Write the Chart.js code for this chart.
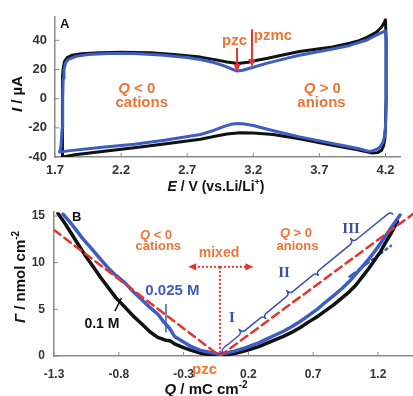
<!DOCTYPE html>
<html>
<head>
<meta charset="utf-8">
<script src="https://cdn.jsdelivr.net/npm/chart.js@4.4.0/dist/chart.umd.min.js"></script>
<style>
  html, body { margin: 0; padding: 0; background: #fff; }
  canvas { display: block; }
</style>
</head>
<body>
<canvas id="cvChart" width="413" height="196"></canvas>
<canvas id="gammaChart" width="413" height="200"></canvas>
<script>
// Panel A: cyclic voltammograms, E (V) vs I (µA)
const cvBlackE = [1.755, 1.755, 1.756, 1.758, 1.762, 1.772, 1.79, 1.83, 1.9, 2.04, 2.2, 2.42, 2.6, 2.8, 2.92, 3.0, 3.06, 3.1, 3.16, 3.22, 3.3, 3.45, 3.55, 3.7, 3.8, 3.93, 4.0, 4.06, 4.13, 4.17, 4.19, 4.2,
  4.205, 4.205, 4.2, 4.195, 4.185, 4.17, 4.14, 4.1, 4.05, 3.98, 3.8, 3.55, 3.35, 3.2, 3.1, 3.0, 2.92, 2.8, 2.54, 2.3, 2.04, 1.85, 1.78, 1.755];
const cvBlackI = [-40, -30, 0, 15, 21, 25.5, 28, 29.8, 30.8, 31.5, 31.8, 31.5, 30.3, 28.5, 26.6, 25.2, 24.4, 24.3, 25, 26.2, 27.6, 30.5, 32.3, 34.2, 35.5, 38, 39.8, 42, 45.5, 49, 52, 54,
  40, 0, -20, -28, -32.5, -35.5, -37, -37.2, -36.3, -34.8, -32, -27.5, -24.5, -23.5, -23.4, -24.2, -25.6, -27.8, -30.9, -33.6, -36.4, -38.5, -39.6, -40];
const cvBlueE = [1.735, 1.745, 1.755, 1.758, 1.762, 1.768, 1.78, 1.8, 1.86, 1.95, 2.1, 2.3, 2.5, 2.7, 2.8, 2.9, 2.98, 3.04, 3.08, 3.12, 3.2, 3.3, 3.45, 3.55, 3.7, 3.8, 3.93, 4.06, 4.13, 4.2,
  4.205, 4.205, 4.2, 4.19, 4.18, 4.16, 4.14, 4.1, 4.07, 4.0, 3.8, 3.55, 3.4, 3.3, 3.2, 3.12, 3.08, 3.03, 2.98, 2.9, 2.8, 2.54, 2.3, 2.04, 1.8, 1.735];
const cvBlueI = [-36.5, -33, -20, 0, 14, 20, 24.5, 27, 29, 30.3, 31, 31, 30, 28.2, 26.8, 24.8, 22.5, 20.2, 19, 19.5, 21.5, 24.2, 27.6, 29.8, 32.3, 34, 36.5, 40.2, 43.5, 46.5,
  40, 0, -20, -27, -30, -33, -34.5, -35.8, -36, -34.3, -30.8, -26.2, -23, -20.8, -18.4, -17.2, -17, -17.6, -19, -21.8, -24.6, -28.4, -31.2, -33.5, -35.8, -36.5];
const eTicks = [1.7, 2.2, 2.7, 3.2, 3.7, 4.2];
const iTicks = [-40, -20, 0, 20, 40];

// Panel B: surface excess vs charge
const gBlackQ = [-1.27, -1.22, -1.17, -1.12, -1.06, -1.0, -0.94, -0.88, -0.82, -0.75, -0.69, -0.62, -0.56, -0.5, -0.44, -0.4, -0.37, -0.3, -0.24, -0.17, -0.1, -0.03,
  0.04, 0.1, 0.16, 0.22, 0.28, 0.34, 0.4, 0.47, 0.53, 0.6, 0.66, 0.73, 0.79, 0.86, 0.92, 0.98, 1.03, 1.08, 1.13, 1.18, 1.22, 1.26, 1.3, 1.33, 1.35];
const gBlackG = [15.3, 14.3, 13.2, 12.1, 10.8, 9.6, 8.4, 7.3, 6.2, 5.2, 4.3, 3.4, 2.6, 2.0, 1.7, 1.6, 1.3, 0.9, 0.6, 0.3, 0.15, 0.05,
  0.15, 0.3, 0.5, 0.75, 1.0, 1.35, 1.7, 2.1, 2.5, 3.05, 3.6, 4.2, 4.8, 5.5, 6.2, 6.9, 7.6, 8.5, 9.4, 10.4, 11.2, 12.2, 13.1, 13.9, 14.4];
const gBlueQ = [-1.23, -1.18, -1.14, -1.08, -1.01, -0.95, -0.88, -0.82, -0.75, -0.69, -0.62, -0.56, -0.5, -0.45, -0.41, -0.37, -0.3, -0.24, -0.17, -0.1, -0.03,
  0.04, 0.1, 0.16, 0.22, 0.28, 0.34, 0.4, 0.47, 0.53, 0.6, 0.66, 0.73, 0.79, 0.86, 0.92, 0.98, 1.03, 1.08, 1.13, 1.18, 1.23, 1.28, 1.32, 1.35, 1.37];
const gBlueG = [15.2, 14.4, 13.7, 12.6, 11.5, 10.5, 9.4, 8.6, 7.8, 6.9, 6.0, 5.2, 4.5, 3.6, 3.0, 2.1, 1.5, 1.0, 0.6, 0.4, 0.2,
  0.35, 0.55, 0.8, 1.1, 1.4, 1.8, 2.2, 2.65, 3.1, 3.7, 4.3, 5.0, 5.7, 6.5, 7.2, 8.0, 8.8, 9.6, 10.4, 11.3, 12.3, 13.3, 14.1, 14.7, 15.1];
const fitLeftQ = [-1.3, -0.02];
const fitLeftG = [13.5, 0];
const fitRightQ = [-0.02, 1.47];
const fitRightG = [0, 15.2];
const blueFitQ = [0.98, 1.3];
const blueFitG = [8.5, 11.8];
const qTicks = [-1.3, -0.8, -0.3, 0.2, 0.7, 1.2];
const gTicks = [0, 5, 10, 15];

const FONT = "'Liberation Sans', Arial, sans-serif";
const SERIF = "'Liberation Serif', 'Times New Roman', serif";
const ORANGE = "#ec7537";
const RED = "#e3352b";
const BLUE = "#3f5cc2";
const INK = "#111";

const toPts = (xs, ys) => xs.map((x, i) => ({ x, y: ys[i] }));

// text made of pieces (italic letters, superscripts)
function drawRich(ctx, parts, x, y, size, align) {
  const font = (p) => `${p.italic ? "italic " : ""}bold ${p.sup ? Math.round(size * 0.65) : size}px ${FONT}`;
  let w = 0;
  parts.forEach((p) => { ctx.font = font(p); w += ctx.measureText(p.t).width; });
  let cx = align === "center" ? x - w / 2 : align === "right" ? x - w : x;
  ctx.textAlign = "left";
  ctx.textBaseline = "alphabetic";
  parts.forEach((p) => {
    ctx.font = font(p);
    ctx.fillText(p.t, cx, p.sup ? y - size * 0.4 : y);
    cx += ctx.measureText(p.t).width;
  });
}

function arrow(ctx, x1, y1, x2, y2, color, width, dash, head) {
  const a = Math.atan2(y2 - y1, x2 - x1);
  const c = Math.cos(a), s = Math.sin(a);
  ctx.save();
  ctx.strokeStyle = color;
  ctx.fillStyle = color;
  ctx.lineWidth = width;
  ctx.setLineDash(dash || []);
  ctx.beginPath();
  ctx.moveTo(x1, y1);
  ctx.lineTo(x2 - c * head * 0.8, y2 - s * head * 0.8);
  ctx.stroke();
  ctx.setLineDash([]);
  ctx.beginPath();
  ctx.moveTo(x2, y2);
  ctx.lineTo(x2 - head * c + head * 0.45 * s, y2 - head * s - head * 0.45 * c);
  ctx.lineTo(x2 - head * c - head * 0.45 * s, y2 - head * s + head * 0.45 * c);
  ctx.closePath();
  ctx.fill();
  ctx.restore();
}

function line(ctx, x1, y1, x2, y2, color, width, dash) {
  ctx.save();
  ctx.strokeStyle = color;
  ctx.lineWidth = width;
  ctx.setLineDash(dash || []);
  ctx.beginPath();
  ctx.moveTo(x1, y1);
  ctx.lineTo(x2, y2);
  ctx.stroke();
  ctx.restore();
}

// small tick marks pointing into the plot
function innerTicks(chart) {
  const { ctx, chartArea, scales: { x, y } } = chart;
  x.ticks.forEach((t) => {
    const p = x.getPixelForValue(t.value);
    line(ctx, p, chartArea.bottom, p, chartArea.bottom - 4, "#8a8a8a", 1);
  });
  y.ticks.forEach((t) => {
    const p = y.getPixelForValue(t.value);
    line(ctx, chartArea.left, p, chartArea.left + 4, p, "#8a8a8a", 1);
  });
}

// one curly brace between pixel points a and b, bulging along normal n
function brace(ctx, a, b, n, h1, h2) {
  const len = Math.hypot(b.x - a.x, b.y - a.y);
  const u = { x: (b.x - a.x) / len, y: (b.y - a.y) / len };
  const r = 4;
  const m = { x: (a.x + b.x) / 2, y: (a.y + b.y) / 2 };
  const P = (p, du, dn) => [p.x + u.x * du + n.x * dn, p.y + u.y * du + n.y * dn];
  ctx.beginPath();
  ctx.moveTo(a.x, a.y);
  ctx.quadraticCurveTo(...P(a, 0, h1), ...P(a, r, h1));
  ctx.lineTo(...P(m, -r, h1));
  ctx.quadraticCurveTo(...P(m, 0, h1), ...P(m, 0, h2));
  ctx.quadraticCurveTo(...P(m, 0, h1), ...P(m, r, h1));
  ctx.lineTo(...P(b, -r, h1));
  ctx.quadraticCurveTo(...P(b, 0, h1), b.x, b.y);
  ctx.stroke();
}

function axis(ticksArr, min, max, size, pad, fmt, fontSize) {
  return {
    type: "linear",
    min,
    max,
    grid: { display: false, drawTicks: false },
    border: { display: true, color: "#8a8a8a", width: 1.5 },
    afterBuildTicks: (s) => { s.ticks = ticksArr.map((v) => ({ value: v })); },
    afterFit: (s) => { if (s.isHorizontal()) s.height = size; else s.width = size; },
    ticks: {
      padding: pad,
      autoSkip: false,
      maxRotation: 0,
      color: "#333",
      font: { family: FONT, size: fontSize, weight: "bold" },
      callback: fmt,
    },
  };
}

const cvNotes = {
  id: "cvNotes",
  afterDraw(chart) {
    const { ctx, chartArea: area, scales: { x, y } } = chart;
    const px = (v) => x.getPixelForValue(v);
    const py = (v) => y.getPixelForValue(v);
    innerTicks(chart);
    ctx.save();
    ctx.fillStyle = INK;
    drawRich(ctx, [{ t: "A" }], area.left + 5, area.top + 11, 13, "left");

    ctx.fillStyle = ORANGE;
    drawRich(ctx, [{ t: "Q", italic: true }, { t: " < 0" }], px(2.318), py(3.9), 15, "center");
    drawRich(ctx, [{ t: "cations" }], px(2.356), py(-5.4), 15, "center");
    drawRich(ctx, [{ t: "Q", italic: true }, { t: " > 0" }], px(3.723), py(3.9), 15, "center");
    drawRich(ctx, [{ t: "anions" }], px(3.716), py(-5.4), 15, "center");
    drawRich(ctx, [{ t: "pzc" }], px(3.058), py(36.5), 15, "center");
    drawRich(ctx, [{ t: "pzmc" }], px(3.349), py(40.2), 15, "center");
    arrow(ctx, px(3.077), py(34.8), px(3.077), py(18.3), RED, 2, null, 8);
    arrow(ctx, px(3.19), py(47.6), px(3.19), py(21.7), RED, 2, null, 8);

    // axis titles
    ctx.fillStyle = INK;
    drawRich(ctx, [{ t: "E", italic: true }, { t: " / V (vs.Li/Li" }, { t: "+", sup: true }, { t: ")" }], 216, 191, 14, "center");
    ctx.translate(17, 94);
    ctx.rotate(-Math.PI / 2);
    drawRich(ctx, [{ t: "I", italic: true }, { t: " / µA" }], 0, 5, 15, "center");
    ctx.restore();
  },
};

const gammaNotes = {
  id: "gammaNotes",
  afterDraw(chart) {
    const { ctx, chartArea: area, scales: { x, y } } = chart;
    const px = (v) => x.getPixelForValue(v);
    const py = (v) => y.getPixelForValue(v);
    const pzcQ = -0.02;
    innerTicks(chart);
    ctx.save();
    ctx.fillStyle = INK;
    drawRich(ctx, [{ t: "B" }], area.left + 18, area.top + 9, 13, "left");

    ctx.fillStyle = ORANGE;
    drawRich(ctx, [{ t: "Q", italic: true }, { t: " < 0" }], px(-0.513), py(12.5), 13, "center");
    drawRich(ctx, [{ t: "cations" }], px(-0.495), py(11.33), 13, "center");
    drawRich(ctx, [{ t: "Q", italic: true }, { t: " > 0" }], px(0.567), py(12.7), 13, "center");
    drawRich(ctx, [{ t: "anions" }], px(0.579), py(11.33), 13, "center");
    drawRich(ctx, [{ t: "mixed" }], px(-0.027), py(10.6), 14, "center");
    drawRich(ctx, [{ t: "pzc" }], px(-0.139), py(-1.9), 15, "center");

    // mixed region marker
    line(ctx, px(pzcQ), py(9.55), px(pzcQ), py(0), RED, 2, [2, 2]);
    arrow(ctx, px(pzcQ), py(9.55), px(-0.264), py(9.55), RED, 2, [2, 2], 8);
    arrow(ctx, px(pzcQ), py(9.55), px(0.238), py(9.55), RED, 2, [2, 2], 8);

    // concentration labels
    ctx.fillStyle = BLUE;
    drawRich(ctx, [{ t: "0.025 M" }], px(-0.386), py(6.5), 15, "center");
    line(ctx, px(-0.436), py(5.56), px(-0.436), py(2.52), BLUE, 1.5);
    ctx.fillStyle = INK;
    drawRich(ctx, [{ t: "0.1 M" }], px(-0.93), py(3.04), 14, "center");
    line(ctx, px(-0.83), py(4.8), px(-0.78), py(6.2), INK, 1.5);

    // regions I, II, III along the anion branch
    const a = { x: px(0.006), y: py(0.28) };
    const b = { x: px(1.318), y: py(15.14) };
    const len = Math.hypot(b.x - a.x, b.y - a.y);
    const n = { x: (b.y - a.y) / len, y: -(b.x - a.x) / len };
    const cuts = [0, 0.25, 0.56, 1];
    ctx.strokeStyle = "#3a52b4";
    ctx.lineWidth = 1.5;
    for (let i = 0; i < 3; i++) {
      const p0 = { x: a.x + (b.x - a.x) * cuts[i], y: a.y + (b.y - a.y) * cuts[i] };
      const p1 = { x: a.x + (b.x - a.x) * cuts[i + 1], y: a.y + (b.y - a.y) * cuts[i + 1] };
      brace(ctx, p0, p1, n, 4, 9);
    }
    ctx.fillStyle = "#3a4fa8";
    ctx.font = `bold 15px ${SERIF}`;
    ctx.textAlign = "center";
    ctx.fillText("I", px(0.073), py(3.6));
    ctx.fillText("II", px(0.475), py(8.5));
    ctx.fillText("III", px(0.992), py(13.2));

    // axis titles
    ctx.fillStyle = INK;
    drawRich(ctx, [{ t: "Q", italic: true }, { t: " / mC cm" }, { t: "-2", sup: true }], 206, 198, 15, "center");
    ctx.translate(20, 81);
    ctx.rotate(-Math.PI / 2);
    drawRich(ctx, [{ t: "Γ", italic: true }, { t: " / nmol cm" }, { t: "-2", sup: true }], 0, 5, 15, "center");
    ctx.restore();
  },
};

const common = {
  responsive: false,
  animation: false,
  plugins: { legend: { display: false }, tooltip: { enabled: false } },
  elements: { line: { borderJoinStyle: "round", borderCapStyle: "round", tension: 0 }, point: { radius: 0 } },
};

new Chart(document.getElementById("cvChart"), {
  type: "scatter",
  data: {
    datasets: [
      { data: toPts(cvBlueE, cvBlueI), borderColor: BLUE, borderWidth: 3, showLine: true, order: 0 },
      { data: toPts(cvBlackE, cvBlackI), borderColor: INK, borderWidth: 3, showLine: true, order: 1 },
    ],
  },
  options: {
    ...common,
    layout: { padding: { top: 17, right: 13, left: 0, bottom: 0 } },
    scales: {
      x: axis(eTicks, 1.7, 4.31, 39, 6, (v) => v.toFixed(1), 13),
      y: axis(iTicks, -40, 56, 55, 8, (v) => v, 13),
    },
  },
  plugins: [cvNotes],
});

new Chart(document.getElementById("gammaChart"), {
  type: "scatter",
  data: {
    datasets: [
      { data: toPts(fitLeftQ, fitLeftG), borderColor: RED, borderWidth: 2.5, borderDash: [8, 5], showLine: true, order: 0 },
      { data: toPts(fitRightQ, fitRightG), borderColor: RED, borderWidth: 2.5, borderDash: [8, 5], showLine: true, order: 0 },
      { data: toPts(gBlueQ, gBlueG), borderColor: BLUE, borderWidth: 3.5, showLine: true, order: 1 },
      { data: toPts(gBlackQ, gBlackG), borderColor: INK, borderWidth: 3.5, showLine: true, order: 2 },
      { data: toPts(blueFitQ, blueFitG), borderColor: BLUE, borderWidth: 2.5, borderDash: [7, 4, 2, 4], showLine: true, order: 3 },
    ],
  },
  options: {
    ...common,
    layout: { padding: { top: 13, right: 0, left: 0, bottom: 0 } },
    scales: {
      x: axis(qTicks, -1.3, 1.47, 40, 11, (v) => v.toFixed(1), 12),
      y: axis(gTicks, 0, 15.4, 54, 9, (v) => v, 12),
    },
  },
  plugins: [gammaNotes],
});
</script>
</body>
</html>
